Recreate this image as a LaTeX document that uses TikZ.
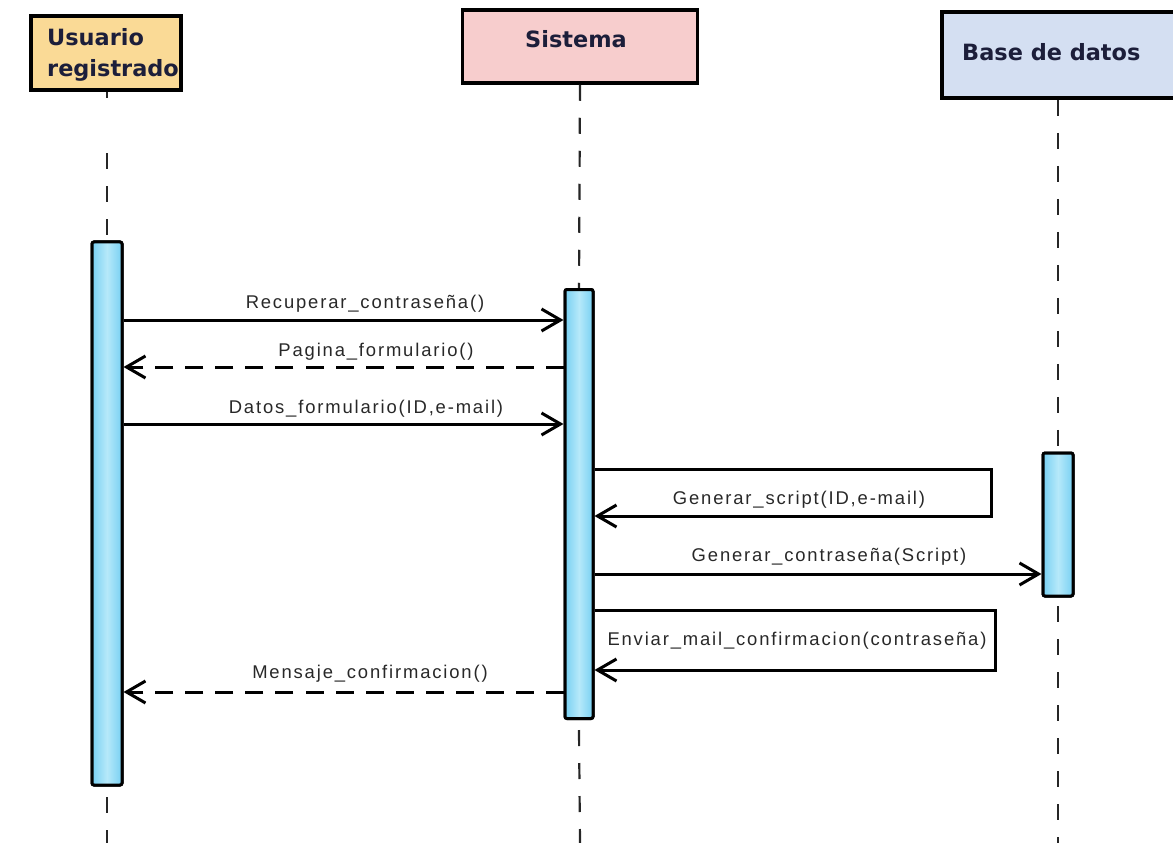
\documentclass[tikz,border=0pt]{standalone}
\usepackage{fontspec}
\usetikzlibrary{arrows.meta}
\newfontfamily\headfont{DejaVu Sans}
\newfontfamily\msgfont[LetterSpace=10]{Liberation Sans}
\definecolor{usercol}{RGB}{250,218,150}
\definecolor{syscol}{RGB}{247,205,205}
\definecolor{dbcol}{RGB}{212,223,242}
\definecolor{barcol}{RGB}{120,208,242}
\definecolor{barmid}{RGB}{182,233,250}
\definecolor{headtext}{RGB}{28,30,58}
\definecolor{msgtext}{RGB}{40,40,40}
\begin{document}
\begin{tikzpicture}[x=1bp,y=-1bp,
  actor/.style={draw=black, line width=3.5bp, inner sep=0pt},
  headlabel/.style={font=\headfont\bfseries\fontsize{22.5}{31}\selectfont, text=headtext, inner sep=0pt},
  lifeline/.style={draw=black!85, line width=2.2bp, dash pattern=on 16bp off 17bp},
  actbar/.style={draw=black, line width=3bp, rounded corners=2bp, left color=barcol, right color=barcol, middle color=barmid, minimum width=30bp, inner sep=0pt},
  msg/.style={draw=black, line width=3bp, -{Straight Barb[length=19bp,width=22bp]}},
  reply/.style={msg, dash pattern=on 18bp off 12bp},
  msglabel/.style={font=\msgfont\fontsize{18.5}{21}\selectfont, text=msgtext, inner sep=0pt, anchor=base},
]
\useasboundingbox (0,0) rectangle (1173,843);
\clip (0,0) rectangle (1173,843);

% participants
\node[actor, fill=usercol, minimum width=150bp, minimum height=74bp] (user) at (106,53) {};
\node[actor, fill=syscol, minimum width=235bp, minimum height=73bp] (sys) at (580,46.5) {};
\node[actor, fill=dbcol, minimum width=260bp, minimum height=86bp] (db) at (1072,55) {};
\node[headlabel, anchor=north west, align=left] (usertext) at (47,28) {Usuario\\registrado};
\node[headlabel, anchor=base] (systext) at (576,47) {Sistema};
\node[headlabel, anchor=base west] (dbtext) at (962,60) {Base de datos};

% activation bars (placed first so the lifelines can refer to them)
\node[actbar, minimum height=543bp] (userbar) at (107,513.5) {};
\node[actbar, minimum width=28bp, minimum height=429bp] (sysbar) at (579,504) {};
\node[actbar, minimum height=143bp] (dbbar) at (1058,524.5) {};

% lifelines
\coordinate (userlow) at (107,843);
\coordinate (syslow) at (580,843);
\coordinate (dblow) at (1058,843);
\draw[line width=2.2bp, black!85] (userbar.north |- user.south) -- ++(0,6);
\draw[lifeline] (userbar.north |- 0,153) -- (userbar.north);
\draw[lifeline] (userbar.south |- 0,797) -- (userlow);
\draw[lifeline] (sys.south) -- (sysbar.north);
\draw[lifeline] (sysbar.south |- 0,730) -- (syslow);
\draw[lifeline] (db.south -| dbbar.center) -- (dbbar.north);
\draw[lifeline] (dbbar.south |- 0,606) -- (dblow);

% bars redrawn on top of the lifelines
\node[actbar, minimum height=543bp] at (userbar) {};
\node[actbar, minimum width=28bp, minimum height=429bp] at (sysbar) {};
\node[actbar, minimum height=143bp] at (dbbar) {};

% messages
\draw[msg] (userbar.east |- 0,320) -- (sysbar.west |- 0,320);
\node[msglabel] (m1) at (365,308) {Recuperar\_contraseña()};

\draw[reply] (sysbar.west |- 0,367) -- (userbar.east |- 0,367);
\node[msglabel] (m2) at (376,356) {Pagina\_formulario()};

\draw[msg] (userbar.east |- 0,424) -- (sysbar.west |- 0,424);
\node[msglabel] (m3) at (366,413) {Datos\_formulario(ID,e-mail)};

\coordinate (loopa) at (991,469);
\coordinate (loopb) at (991,516);
\draw[msg] (sysbar.east |- loopa) -- (loopa) -- (loopb) -- (sysbar.east |- loopb);
\node[msglabel] (m4) at (799,504) {Generar\_script(ID,e-mail)};

\draw[msg] (sysbar.east |- 0,574) -- (dbbar.west |- 0,574);
\node[msglabel] (m5) at (829,561) {Generar\_contraseña(Script)};

\coordinate (loopc) at (995,610);
\coordinate (loopd) at (995,670);
\draw[msg] (sysbar.east |- loopc) -- (loopc) -- (loopd) -- (sysbar.east |- loopd);
\node[msglabel] (m6) at (797,645) {Enviar\_mail\_confirmacion(contraseña)};

\draw[reply] (sysbar.west |- 0,692) -- (userbar.east |- 0,692);
\node[msglabel] (m7) at (370,678) {Mensaje\_confirmacion()};
\end{tikzpicture}
\end{document}
